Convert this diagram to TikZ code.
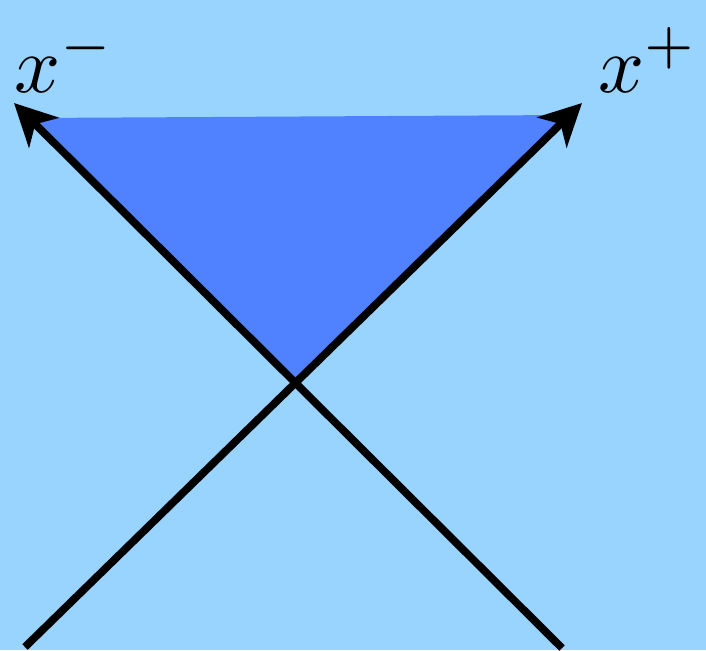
\documentclass[tikz,border=0pt]{standalone}
\usetikzlibrary{arrows.meta}
\definecolor{skyback}{RGB}{153,212,255}
\definecolor{wedgeblue}{RGB}{80,130,255}
\begin{document}
\begin{tikzpicture}[x=0.02cm, y=-0.02cm,
    axis/.style={line width=4.4pt, -{Stealth[length=8.4mm, width=8.4mm, inset=2.4mm]}},
    lab/.style={scale=4.6, inner sep=0, anchor=base west}]
    \fill[skyback] (0,0) rectangle (706,650);
    \useasboundingbox (0,0) rectangle (706,650);
    % light cone
    \coordinate (o) at (293,383);
    \coordinate (bl) at (25,647);
    \coordinate (br) at (562,648);
    \coordinate (tl) at (14,103);
    \coordinate (tr) at (582,103);
    \fill[wedgeblue] (31,118) -- (567,115) -- (o) -- cycle;
    \draw[axis] (br) -- (tl);
    \draw[axis] (bl) -- (tr);
    \node[lab] (xm) at (13,92) {$x^-$};
    \node[lab] (xp) at (597,92) {$x^+$};
\end{tikzpicture}
\end{document}
